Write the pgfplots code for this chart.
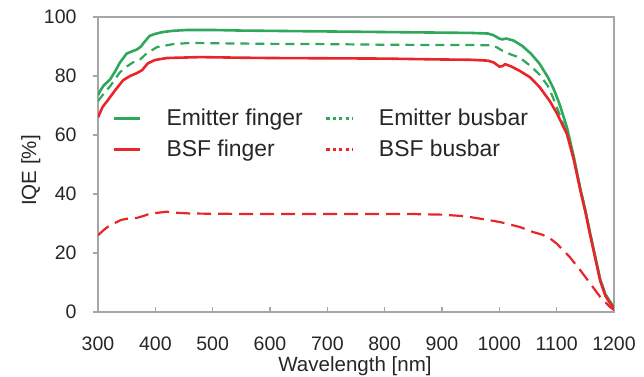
\documentclass[border=0pt]{standalone}
\usepackage{pgfplots}
\pgfplotsset{compat=1.18}
\usepackage{fontspec}
\setmainfont{Liberation Sans}
\definecolor{cgreen}{HTML}{2EA85A}
\definecolor{cred}{HTML}{E8262A}
\definecolor{cframe}{HTML}{A6A6A6}
\begin{document}
\begin{tikzpicture}
\path[use as bounding box] (0,0) rectangle (322bp,188.5bp);
\begin{axis}[
  at={(49bp,32.5bp)}, anchor=south west,
  scale only axis, width=258bp, height=147.5bp,
  xmin=300, xmax=1200, ymin=0, ymax=100,
  xtick={300,400,...,1200}, ytick={0,20,...,100},
  axis line style={cframe, line width=0.6bp},
  tick style={cframe, line width=0.6bp},
  tick pos=left,
  tick align=inside,
  major tick length=2.6bp,
  major y tick style={xshift=-2.6bp},
  /pgf/number format/assume math mode=true,
  /pgf/number format/1000 sep={},
  ticklabel style={font=\fontsize{9.8}{11}\selectfont, text=black!85},
  xticklabel style={yshift=-8.7bp},
  yticklabel style={xshift=-7.2bp},
  xlabel={Wavelength [nm]}, ylabel={IQE [\%]},
  label style={font=\fontsize{10.3}{12}\selectfont, text=black!85},
  xlabel style={at={(axis description cs:0.498,-0.184)}, anchor=center},
  ylabel style={at={(axis description cs:-0.130,0.48)}, anchor=center},
  legend columns=2,
  legend cell align=left,
  legend style={draw=none, fill=none, inner sep=0pt,
    at={(axis description cs:0.027,0.603)}, anchor=west,
    font=\fontsize{11.5}{13}\selectfont, text=black!85,
    nodes={inner sep=0pt},
    /tikz/every odd column/.append style={column sep=12.5bp},
    /tikz/every even column/.append style={column sep=11bp},
    row sep=5.5bp},
]
\addplot[cgreen, line width=1.3bp,
  legend image code/.code={\draw[cgreen, line width=1.6bp] (0bp,0bp) -- (13bp,0bp);}]
coordinates {
(300,73.5)(305,75.3)(310,76.8)(321,78.8)(330,81.6)(338,84.5)(350,87.6)(360,88.4)(368,89)(375,90)(380,91.3)(390,93.6)(400,94.3)(413,94.9)(430,95.3)(455,95.6)(500,95.6)(550,95.4)(600,95.3)(650,95.2)(700,95.1)(750,95)(800,94.9)(850,94.8)(900,94.7)(950,94.6)(980,94.4)(990,93.8)(1000,92.7)(1005,92.4)(1012,92.7)(1025,92)(1040,90.2)(1055,87.6)(1070,84.2)(1085,79.5)(1095,75.5)(1105,70.5)(1118,62.5)(1130,52.5)(1141,42)(1150,34.5)(1158,27)(1167,19)(1176,11)(1185,6)(1193,3.5)(1200,1.7)
};
\addlegendentry{Emitter finger}
\addplot[cgreen, line width=1.1bp, dash pattern=on 4.5bp off 3bp,
  legend image code/.code={\draw[cgreen, line width=1.6bp, dash pattern=on 1.6bp off 1.6bp] (0bp,0bp) -- (13bp,0bp);}]
coordinates {
(300,71.5)(310,74)(321,76.5)(338,81.2)(350,83.2)(361,84.6)(373,85.5)(385,87.7)(403,89.8)(431,90.8)(460,91.2)(500,91.1)(600,90.9)(700,90.8)(800,90.6)(900,90.5)(950,90.5)(985,90.4)(995,89.8)(1005,88.6)(1020,87.3)(1036,86.2)(1055,83.3)(1071,80.3)(1085,76.5)(1094,72.5)(1106,66.5)(1120,59)(1130,52)(1141,42)(1150,34.5)(1158,27)(1167,19)(1176,11)(1185,6)(1193,3.5)(1200,1.8)
};
\addlegendentry{Emitter busbar}
\addplot[cred, line width=1.3bp,
  legend image code/.code={\draw[cred, line width=1.6bp] (0bp,0bp) -- (13bp,0bp);}]
coordinates {
(300,66)(308,69.5)(316,71.5)(330,75.2)(344,78.6)(356,80)(368,81)(377,82)(387,84.3)(399,85.4)(420,86.1)(478,86.4)(550,86.2)(600,86.1)(700,86)(800,85.9)(900,85.6)(950,85.5)(980,85.2)(990,84.6)(1000,83.2)(1005,83.3)(1010,84)(1020,83.3)(1035,81.8)(1054,79.5)(1070,76.3)(1088,71.5)(1100,67.5)(1118,60.3)(1130,51.5)(1141,41.5)(1150,34)(1158,26.5)(1167,18.5)(1176,10.5)(1185,5.5)(1193,3)(1200,1.2)
};
\addlegendentry{BSF finger}
\addplot[cred, line width=1.1bp, dash pattern=on 7bp off 3.5bp,
  legend image code/.code={\draw[cred, line width=1.6bp, dash pattern=on 1.6bp off 1.6bp] (0bp,0bp) -- (13bp,0bp);}]
coordinates {
(300,26)(310,27.8)(320,29.3)(333,30.5)(340,31.2)(350,31.6)(360,31.7)(368,31.9)(380,32.6)(390,33.3)(403,33.6)(420,34)(440,33.6)(460,33.4)(500,33.3)(600,33.2)(700,33.2)(800,33.2)(850,33.2)(900,33)(930,32.6)(949,32.2)(980,31.2)(1001,30.5)(1036,28.8)(1059,27.1)(1075,26.2)(1088,25)(1100,23.2)(1106,22)(1123,18.6)(1141,14.2)(1158,9.8)(1176,5.1)(1193,1.7)(1200,0.7)
};
\addlegendentry{BSF busbar}
\end{axis}
\end{tikzpicture}
\end{document}
